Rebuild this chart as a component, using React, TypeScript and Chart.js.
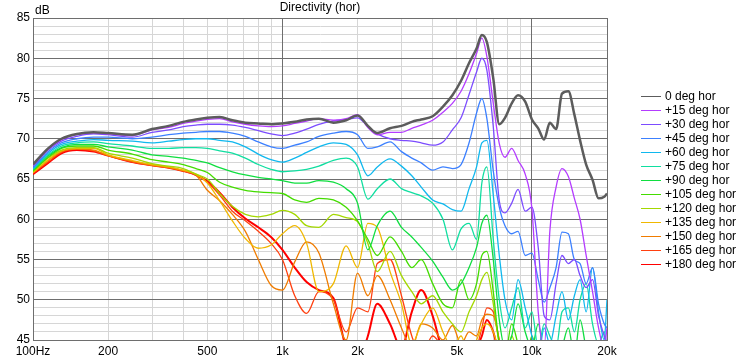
import React, { useEffect, useRef } from 'react';
import { Chart, registerables } from 'chart.js';

Chart.register(...registerables);

const FREQS = [
  100, 115, 130, 150, 175, 200, 250, 300, 350, 400, 450, 500,
  560, 630, 710, 800, 900, 1000,
  1120, 1250, 1400, 1600, 1800, 2000,
  2200, 2400, 2700, 3000, 3300, 3600, 4000, 4400, 4800, 5200, 5600,
  6000, 6300, 6600, 7000, 7400, 7800, 8300, 8800, 9400, 10000,
  10600, 11200, 11800, 12500, 13200, 14000, 14800, 15600, 16500, 17500, 18500, 19500, 20000,
];

const DEG_0 = [
  66.8, 68.8, 70.0, 70.6, 70.8, 70.7, 70.5, 71.2, 71.6, 72.1, 72.4, 72.6,
  72.7, 72.3, 72.0, 71.9, 71.8, 71.9,
  72.1, 72.4, 72.5, 72.0, 72.3, 72.9,
  71.6, 70.7, 71.3, 71.6, 72.1, 72.4, 72.8, 74.0, 75.4, 77.2, 79.4,
  81.2, 82.9, 82.0, 77.5, 71.8, 72.6, 74.4, 75.4, 74.6, 72.4,
  71.3, 69.9, 72.0, 71.2, 75.6, 75.9, 73.0, 69.8, 66.8, 64.9, 62.6, 62.8, 63.2,
];
const DEG_15 = [
  66.7, 68.7, 69.9, 70.5, 70.7, 70.6, 70.4, 71.1, 71.4, 71.9, 72.2, 72.4,
  72.5, 72.1, 71.8, 71.6, 71.5, 71.6,
  71.9, 72.2, 72.5, 72.3, 72.5, 73.0,
  71.4, 70.5, 70.8, 70.8, 71.3, 71.7, 72.3, 73.3, 74.4, 75.9, 78.1,
  80.6, 82.5, 80.2, 74.4, 69.4, 67.7, 68.8, 67.3, 65.6, 61.3,
  48.5, 44.0, 58.5, 64.0, 66.3, 65.3, 62.6, 60.0, 55.5, 51.0, 46.5, 44.0, 46.5,
];
const DEG_30 = [
  66.6, 68.6, 69.7, 70.3, 70.6, 70.5, 70.2, 70.8, 71.1, 71.5, 71.7, 71.8,
  71.8, 71.7, 71.4, 71.0, 70.6, 70.4,
  70.7, 71.2, 71.8, 72.2, 72.4, 72.6,
  71.5, 70.6, 70.0, 69.8, 69.7, 69.5, 69.2, 69.6, 71.1, 72.6, 75.5,
  78.3, 80.0, 78.5, 71.5, 62.3, 60.8, 62.0, 63.7, 61.0, 61.5,
  56.5, 48.0, 47.5, 52.0, 55.5, 54.5, 55.0, 53.0, 51.5, 52.5, 48.0, 45.5, 44.5,
];
const DEG_45 = [
  66.4, 68.4, 69.5, 70.0, 70.2, 70.2, 70.0, 70.2, 70.5, 70.7, 70.8, 70.9,
  70.9, 70.7, 70.3, 69.6, 69.0, 68.8,
  69.2, 69.6, 70.3, 70.7, 70.9, 70.5,
  68.8, 69.0, 69.6, 68.4, 67.6, 67.0, 66.1, 66.5, 66.3, 66.8, 69.5,
  73.2, 75.0, 72.5, 66.0, 61.5, 59.2, 58.2, 58.5, 55.5, 55.8,
  52.5, 49.7, 51.5, 54.0, 58.4, 58.2, 55.0, 54.5, 52.0, 54.0, 49.5, 47.0, 46.5,
];
const DEG_60 = [
  66.3, 68.2, 69.3, 69.7, 69.9, 69.8, 69.7, 69.5, 69.7, 69.9, 70.0, 70.0,
  69.8, 69.6, 69.0, 68.1, 67.4, 67.1,
  67.6, 68.3, 69.0, 69.5, 69.3, 68.0,
  65.4, 66.5, 67.5, 66.6, 65.4, 64.0, 62.4, 61.9, 61.2, 61.0, 63.8,
  66.5, 69.5, 69.8, 63.0, 55.5, 50.0, 47.5, 52.5, 49.0, 45.5,
  43.0, 46.5, 44.5, 48.0, 51.0, 47.5, 50.5, 52.5, 48.5, 54.0, 48.5, 45.0, 50.0,
];
const DEG_75 = [
  66.2, 68.0, 69.1, 69.5, 69.6, 69.4, 69.1, 68.8, 68.8, 68.9, 68.9, 68.8,
  68.5, 68.2, 67.6, 66.8, 66.2, 65.9,
  66.0, 66.2, 66.6, 67.3, 67.6, 66.5,
  62.5, 63.8, 65.0, 63.8, 63.3, 62.9, 62.0, 60.0, 56.2, 58.8, 59.5,
  57.5, 64.5, 66.5, 57.5, 50.0, 46.5, 49.0, 51.5, 46.5, 48.5,
  44.0, 47.0, 45.5, 44.0, 48.5, 49.0, 46.0, 50.0, 52.0, 47.0, 44.5, 46.0, 44.0,
];
const DEG_90 = [
  66.1, 67.9, 68.9, 69.3, 69.3, 69.0, 68.6, 68.0, 67.8, 67.6, 67.3, 67.0,
  66.4, 65.9, 65.5, 65.2, 65.0, 64.8,
  64.5, 64.5, 64.8, 64.6, 63.8, 62.0,
  56.2, 59.2, 61.0, 59.0, 57.8, 56.5, 54.8, 52.8, 51.2, 52.0, 54.0,
  56.5, 59.5, 60.5, 55.0, 47.5, 44.0, 45.5, 49.5, 46.0, 44.0,
  47.0, 43.5, 44.5, 42.0, 44.0, 46.5, 43.0, 47.5, 44.0, 42.5, 44.0, 42.0, 43.0,
];
const DEG_105 = [
  66.0, 67.7, 68.8, 69.1, 69.1, 68.6, 68.1, 67.4, 67.1, 66.8, 66.3, 65.8,
  64.6, 64.0, 63.6, 63.4, 63.3, 63.2,
  62.4, 62.1, 62.6, 62.4, 61.5, 59.8,
  57.5, 55.5, 57.8, 56.0, 54.0, 55.0, 52.0, 49.5, 49.0, 52.5, 50.0,
  52.0, 55.5, 56.0, 51.0, 44.5, 43.0, 47.0, 44.5, 42.0, 45.5,
  43.0, 44.5, 42.0, 43.5, 42.0, 44.0, 42.5, 43.0, 41.0, 42.0, 42.5, 41.0, 42.0,
];
const DEG_120 = [
  65.9, 67.6, 68.6, 68.9, 68.9, 68.2, 67.6, 66.9, 66.6, 66.3, 65.6, 65.0,
  63.2, 61.6, 60.6, 60.3, 60.6, 61.1,
  60.6, 59.2, 59.0, 60.6, 60.2, 59.7,
  57.0, 53.5, 56.0, 53.0, 51.0, 49.5, 50.5, 48.5, 47.0, 46.0, 48.5,
  50.5, 52.5, 53.4, 49.5, 44.5, 42.0, 45.5, 43.0, 41.0, 43.0,
  42.0, 43.5, 41.0, 42.0, 43.0, 41.0, 42.0, 41.5, 40.0, 41.0, 42.0, 40.0, 41.0,
];
const DEG_135 = [
  65.8, 67.4, 68.5, 68.8, 68.8, 68.0, 67.3, 66.8, 66.5, 66.1, 65.6, 64.5,
  62.3, 59.8, 57.6, 56.4, 56.8, 58.2,
  59.2, 57.0, 51.0, 52.0, 56.7, 54.0,
  59.5, 59.0, 53.5, 49.5, 44.5, 47.0, 49.0, 46.0, 44.0, 45.5, 43.0,
  45.0, 46.5, 47.0, 46.0, 43.5, 41.0, 42.0, 40.5, 41.5, 40.0,
  41.0, 40.5, 42.0, 40.0, 41.0, 40.5, 41.5, 40.0, 40.5, 41.0, 40.0, 40.5, 40.0,
];
const DEG_150 = [
  65.8, 67.3, 68.4, 68.7, 68.6, 67.9, 67.2, 66.7, 66.4, 66.0, 65.5, 63.6,
  62.3, 60.6, 58.5, 55.0, 51.8, 51.2,
  54.7, 57.2, 55.8, 49.5, 45.0, 53.3,
  50.5, 53.0, 50.0, 46.5, 44.0, 47.0, 46.5, 45.0, 46.8, 44.5, 46.0,
  45.5, 47.5, 48.2, 48.0, 45.0, 43.0, 41.0, 42.0, 40.0, 41.0,
  40.5, 41.0, 40.0, 41.5, 40.0, 40.5, 41.0, 40.0, 40.5, 40.0, 41.0, 40.0, 40.5,
];
const DEG_165 = [
  65.7, 67.1, 68.3, 68.7, 68.5, 67.9, 67.1, 66.7, 66.4, 66.0, 65.5, 64.6,
  63.0, 61.0, 59.8, 58.5, 57.0, 55.0,
  50.5, 48.3, 51.0, 50.0, 46.0, 49.0,
  48.5, 54.5, 55.0, 50.5, 45.5, 43.0, 45.5, 44.0, 42.5, 44.5, 43.0,
  44.0, 46.5, 49.0, 48.5, 45.0, 42.0, 41.0, 40.0, 41.0, 40.0,
  40.5, 40.0, 41.0, 40.0, 40.5, 40.0, 41.0, 40.5, 40.0, 40.5, 40.0, 41.0, 40.0,
];
const DEG_180 = [
  65.6, 67.0, 68.2, 68.6, 68.4, 67.9, 67.1, 66.7, 66.4, 66.0, 65.5, 64.7,
  63.3, 61.5, 60.1, 59.0, 57.8, 56.2,
  54.0, 52.2, 51.2, 50.2, 44.0, 42.0,
  45.5, 49.5, 47.0, 44.0, 48.5, 51.2, 48.0, 43.5, 42.0, 44.5, 42.0,
  44.0, 45.5, 47.5, 46.0, 43.0, 41.0, 40.0, 41.0, 40.0, 41.0,
  40.0, 40.5, 40.0, 41.0, 40.0, 40.5, 40.0, 41.0, 40.0, 40.5, 40.0, 40.5, 40.0,
];

const SERIES = [DEG_0, DEG_15, DEG_30, DEG_45, DEG_60, DEG_75, DEG_90, DEG_105, DEG_120, DEG_135, DEG_150, DEG_165, DEG_180];
const LABELS = [
  '0 deg hor', '+15 deg hor', '+30 deg hor', '+45 deg hor', '+60 deg hor', '+75 deg hor', '+90 deg hor',
  '+105 deg hor', '+120 deg hor', '+135 deg hor', '+150 deg hor', '+165 deg hor', '+180 deg hor',
];
const COLORS = [
  '#5c5c5c', '#b43cff', '#7c4cff', '#3c80ff', '#10b8ee', '#10dea0', '#10de40',
  '#44dc00', '#a4d800', '#f0b800', '#f07c00', '#ff4010', '#ff0000',
];
const WIDTHS = [2.5, 1.3, 1.3, 1.3, 1.3, 1.3, 1.3, 1.3, 1.3, 1.3, 1.3, 1.3, 2];

const X_TICKS = [100, 200, 300, 400, 500, 600, 700, 800, 900, 1000, 2000, 3000, 4000, 5000, 6000, 7000, 8000, 9000, 10000, 20000];
const X_MAJOR = [100, 1000, 10000, 20000];
const X_LABELS: Record<number, string> = {
  100: '100Hz', 200: '200', 500: '500', 1000: '1k', 2000: '2k', 5000: '5k', 10000: '10k', 20000: '20k',
};
const Y_MIN = 45;
const Y_MAX = 85;
const TITLE = 'Directivity (hor)';
const Y_UNIT = 'dB';

const FONT = '"Liberation Sans", Arial, sans-serif';
const DARK = '#6e6e6e';
const LIGHT = '#d6d6d6';

export default function App() {
  const ref = useRef<HTMLCanvasElement>(null);

  useEffect(() => {
    const canvas = ref.current;
    if (!canvas) return;
    Chart.defaults.font.family = FONT;
    Chart.defaults.font.size = 12;
    Chart.defaults.color = '#000';

    const yTicks: number[] = [];
    for (let v = Y_MIN; v <= Y_MAX; v++) yTicks.push(v);

    const align = (p: number) => Math.round(p - 0.5) + 0.5;

    const majorGrid = {
      id: 'majorGrid',
      beforeDatasetsDraw(chart: any) {
        const ctx = chart.ctx;
        const a = chart.chartArea;
        const xs = chart.scales.x;
        const ys = chart.scales.y;
        ctx.save();
        ctx.strokeStyle = DARK;
        ctx.lineWidth = 1;
        ctx.beginPath();
        X_MAJOR.forEach((v) => {
          const px = align(xs.getPixelForValue(v));
          ctx.moveTo(px, a.top);
          ctx.lineTo(px, a.bottom);
        });
        yTicks.filter((v) => v % 5 === 0).forEach((v) => {
          const py = align(ys.getPixelForValue(v));
          ctx.moveTo(a.left, py);
          ctx.lineTo(a.right, py);
        });
        ctx.stroke();
        ctx.restore();
      },
    };

    const overlay = {
      id: 'overlay',
      afterDraw(chart: any) {
        const ctx = chart.ctx;
        const area = chart.chartArea;
        ctx.save();
        ctx.font = `12px ${FONT}`;
        ctx.fillStyle = '#000';
        ctx.textBaseline = 'middle';
        ctx.textAlign = 'center';
        ctx.fillText(TITLE, (area.left + area.right) / 2, 8);
        ctx.textAlign = 'left';
        ctx.fillText(Y_UNIT, area.left + 2, 11);
        chart.data.datasets.forEach((ds: any, i: number) => {
          const y = 96 + i * 14.03;
          ctx.strokeStyle = ds.borderColor;
          ctx.lineWidth = 1;
          ctx.beginPath();
          ctx.moveTo(641, Math.round(y) + 0.5);
          ctx.lineTo(661, Math.round(y) + 0.5);
          ctx.stroke();
          ctx.fillStyle = '#000';
          ctx.fillText(ds.label, 665, y + 0.5);
        });
        ctx.restore();
      },
    };

    const chart = new Chart(canvas, {
      type: 'line',
      data: {
        datasets: SERIES.map((vals, i) => ({
          label: LABELS[i],
          data: FREQS.map((f, j) => ({ x: f, y: vals[j] })),
          borderColor: COLORS[i],
          backgroundColor: COLORS[i],
          borderWidth: WIDTHS[i],
          pointRadius: 0,
          cubicInterpolationMode: 'monotone',
          fill: false,
        })),
      },
      options: {
        animation: false,
        responsive: false,
        devicePixelRatio: 1,
        layout: { padding: { left: 0, top: 18, right: 131, bottom: 0 } },
        plugins: {
          legend: { display: false },
          tooltip: { enabled: false },
          title: { display: false },
        },
        scales: {
          x: {
            type: 'logarithmic',
            min: 100,
            max: 20000,
            afterBuildTicks: (s: any) => {
              s.ticks = X_TICKS.map((v) => ({ value: v }));
            },
            afterFit: (s: any) => {
              s.height = 20;
            },
            ticks: {
              autoSkip: false,
              maxRotation: 0,
              minRotation: 0,
              padding: 4,
              color: '#000',
              font: { size: 12, family: FONT },
              callback: (v: any) => X_LABELS[Number(v)] ?? '',
            },
            grid: {
              drawTicks: false,
              lineWidth: 1,
              color: (c: any) => (c.tick && X_MAJOR.includes(c.tick.value) ? DARK : LIGHT),
            },
            border: { color: DARK },
          },
          y: {
            type: 'linear',
            min: Y_MIN,
            max: Y_MAX,
            afterBuildTicks: (s: any) => {
              s.ticks = yTicks.map((v) => ({ value: v }));
            },
            afterFit: (s: any) => {
              s.width = 33;
            },
            ticks: {
              autoSkip: false,
              padding: 3,
              color: '#000',
              font: { size: 12, family: FONT },
              callback: (v: any) => (Number(v) % 5 === 0 ? String(v) : ''),
            },
            grid: {
              drawTicks: false,
              lineWidth: 1,
              color: (c: any) => (c.tick && c.tick.value % 5 === 0 ? DARK : LIGHT),
            },
            border: { color: DARK },
          },
        },
      } as any,
      plugins: [majorGrid, overlay],
    });

    return () => chart.destroy();
  }, []);

  return (
    <div style={{ position: 'fixed', left: 0, top: 0, width: 738, height: 360, background: '#fff' }}>
      <canvas ref={ref} width={738} height={360} style={{ display: 'block', width: 738, height: 360 }} />
    </div>
  );
}
